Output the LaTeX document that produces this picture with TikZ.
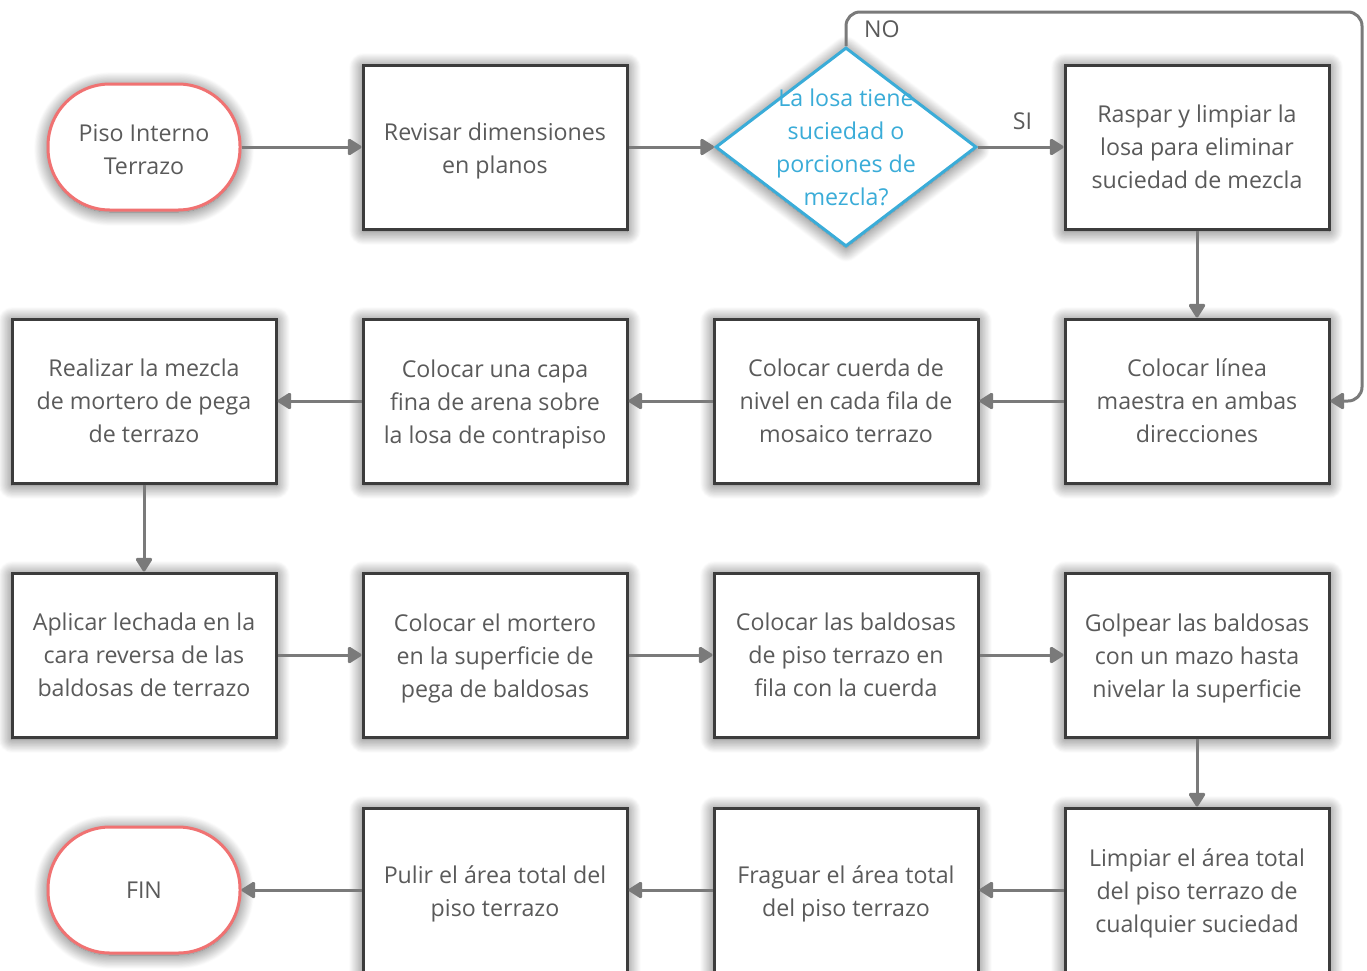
\documentclass[tikz,border=0pt]{standalone}
\usepackage{fontspec}
\setmainfont{Open Sans}
\usetikzlibrary{arrows.meta,shapes.geometric,shadows.blur}
\definecolor{txt}{HTML}{5A5A5A}
\definecolor{boxline}{HTML}{3C3C3C}
\definecolor{term}{HTML}{F07272}
\definecolor{diam}{HTML}{3AACD8}
\definecolor{arr}{HTML}{7A7A7A}
\tikzset{
  shad/.style={blur shadow={shadow xshift=0pt,shadow yshift=-2pt,shadow blur radius=14pt,shadow blur steps=24,shadow opacity=65}},
  stepbox/.style={draw=boxline,line width=3pt,fill=white,minimum width=264pt,minimum height=164pt,
    inner sep=0pt,align=center,text=txt,font=\fontsize{23.2}{33}\selectfont,shad},
  termbox/.style={draw=term,line width=3pt,fill=white,rounded corners=62pt,minimum width=192pt,minimum height=126pt,
    inner sep=0pt,align=center,text=txt,font=\fontsize{23.2}{33}\selectfont,shad},
  decbox/.style={draw=diam,line width=3pt,fill=white,diamond,minimum width=261pt,minimum height=199pt,inner sep=0pt,shad},
  conn/.style={draw=arr,line width=3pt,-{Triangle[length=15pt,width=18pt,round]}},
  lbl/.style={text=txt,font=\fontsize{23.2}{33}\selectfont,inner sep=0pt}
}
\begin{document}
\begin{tikzpicture}[x=1pt,y=-1pt]
\useasboundingbox (0,0) rectangle (1367,970);
\clip (0,0) rectangle (1367,970);
% row 1
\node[termbox] (start) at (144,147) {};
\node[lbl,align=center] (startt) at (144,150) {Piso Interno\\Terrazo};
\node[stepbox] (b12) at (495,147) {};
\node[lbl,align=center] (b12t) at (495,151) {Revisar dimensiones\\en planos};
\node[decbox] (dec) at (846,147) {};
\node[align=center,text=diam,font=\fontsize{23.2}{33}\selectfont,inner sep=0pt] (dectxt) at (846,147) {La losa tiene\\suciedad o\\porciones de\\mezcla?};
\node[stepbox] (b14) at (1197,147) {Raspar y limpiar la\\losa para eliminar\\suciedad de mezcla};
% row 2
\node[stepbox] (b21) at (144,401) {Realizar la mezcla\\de mortero de pega\\de terrazo};
\node[stepbox] (b22) at (495,401) {};
\node[lbl,align=center] (b22t) at (495,404) {Colocar una capa\\fina de arena sobre\\la losa de contrapiso};
\node[stepbox] (b23) at (846,401) {Colocar cuerda de\\nivel en cada fila de\\mosaico terrazo};
\node[stepbox] (b24) at (1197,401) {Colocar línea\\maestra en ambas\\direcciones};
% row 3
\node[stepbox] (b31) at (144,655) {Aplicar lechada en la\\cara reversa de las\\baldosas de terrazo};
\node[stepbox] (b32) at (495,655) {};
\node[lbl,align=center] (b32t) at (495,658) {Colocar el mortero\\en la superficie de\\pega de baldosas};
\node[stepbox] (b33) at (846,655) {Colocar las baldosas\\de piso terrazo en\\fila con la cuerda};
\node[stepbox] (b34) at (1197,655) {};
\node[lbl,align=center] (b34t) at (1197,658) {Golpear las baldosas\\con un mazo hasta\\nivelar la superficie};
% row 4
\node[termbox] (fin) at (144,890) {FIN};
\node[stepbox] (b42) at (495,890) {};
\node[lbl,align=center] (b42t) at (495,894) {Pulir el área total del\\piso terrazo};
\node[stepbox] (b43) at (846,890) {};
\node[lbl,align=center] (b43t) at (846,894) {Fraguar el área total\\del piso terrazo};
\node[stepbox] (b44) at (1197,890) {};
\node[lbl,align=center] (b44t) at (1197,893) {Limpiar el área total\\del piso terrazo de\\cualquier suciedad};
% connectors
\draw[conn] (start) -- (b12);
\draw[conn] (b12) -- (dec);
\draw[conn] (dec) -- node[lbl,above=16pt,pos=0.52] (si) {SI} (b14);
\draw[conn] (b14) -- (b24);
\coordinate (noTop) at (1362,12);
\draw[conn,rounded corners=14pt] (dec.north) |- (noTop) |- (b24.east);
\node[lbl] (no) at (882,29) {NO};
\draw[conn] (b24) -- (b23);
\draw[conn] (b23) -- (b22);
\draw[conn] (b22) -- (b21);
\draw[conn] (b21) -- (b31);
\draw[conn] (b31) -- (b32);
\draw[conn] (b32) -- (b33);
\draw[conn] (b33) -- (b34);
\draw[conn] (b34) -- (b44);
\draw[conn] (b44) -- (b43);
\draw[conn] (b43) -- (b42);
\draw[conn] (b42) -- (fin);
\end{tikzpicture}
\end{document}
